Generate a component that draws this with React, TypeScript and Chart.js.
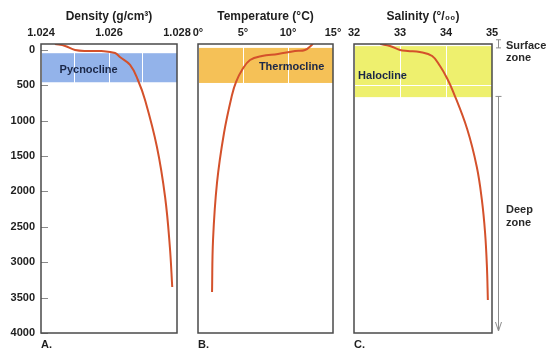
import React, { useEffect, useRef } from "react";
import { Chart, registerables } from "chart.js";

Chart.register(...registerables);
Chart.defaults.font.family = "'Liberation Sans', Arial, sans-serif";

// ---------- data ----------
const DEPTH_TICKS = [0, 500, 1000, 1500, 2000, 2500, 3000, 3500, 4000];
const DEPTH_MIN = -80;
const DEPTH_MAX = 4000;

const DENSITY_GRID = [1.024, 1.025, 1.026, 1.027, 1.028];
const DENSITY_LABELS = [1.024, 1.026, 1.028];
const DENSITY_VALUES = [1.02441, 1.02471, 1.025, 1.02538, 1.02577, 1.02618, 1.02632, 1.02662, 1.02685, 1.02706, 1.02741, 1.02765, 1.02779, 1.02786];
const DENSITY_DEPTHS = [-80, -52, 5, 19, 19, 47, 104, 216, 428, 711, 1374, 2080, 2786, 3351];

const TEMP_GRID = [0, 5, 10, 15];
const TEMP_VALUES = [12.78, 11.89, 10.78, 8.89, 7.11, 5.78, 4.89, 4.22, 3.78, 2.89, 2.11, 1.67, 1.56];
const TEMP_DEPTHS = [-80, 5, 19, 61, 89, 146, 287, 457, 640, 1177, 1882, 2687, 3421];

const SAL_GRID = [32, 33, 34, 35];
const SAL_VALUES = [32.57, 32.78, 33.0, 33.17, 33.43, 33.7, 33.87, 34.02, 34.15, 34.46, 34.67, 34.78, 34.85, 34.89, 34.91];
const SAL_DEPTHS = [-80, -52, 5, 19, 33, 89, 231, 400, 584, 1120, 1657, 2122, 2588, 3068, 3534];

const PYCNOCLINE = [50, 460];
const THERMOCLINE = [-25, 470];
const HALOCLINE = [-50, 670];
const SURFACE_ZONE = [-140, -25];
const DEEP_ZONE = [660, 4000];

// ---------- styles ----------
const CURVE = "#d4512b";
const TEXT = "#1e1e1e";
const FONT = "'Liberation Sans', Arial, sans-serif";

type PanelDef = {
  key: string;
  title: string;
  grid: number[];
  labels: number[];
  fmt: (v: number) => string;
  values: number[];
  depths: number[];
  band: number[];
  bandColor: string;
  bandLabel: string;
  labelAt: [number, number];
  padLeft: number;
  padRight: number;
  showY: boolean;
  letter: string;
  extras: boolean;
};

const PANELS: PanelDef[] = [
  {
    key: "a", title: "Density (g/cm³)", grid: DENSITY_GRID, labels: DENSITY_LABELS,
    fmt: (v) => v.toFixed(3), values: DENSITY_VALUES, depths: DENSITY_DEPTHS,
    band: PYCNOCLINE, bandColor: "#93b3ea", bandLabel: "Pycnocline", labelAt: [1.0254, 290],
    padLeft: 0, padRight: 373, showY: true, letter: "A.", extras: false,
  },
  {
    key: "b", title: "Temperature (°C)", grid: TEMP_GRID, labels: TEMP_GRID,
    fmt: (v) => v + "°", values: TEMP_VALUES, depths: TEMP_DEPTHS,
    band: THERMOCLINE, bandColor: "#f5c157", bandLabel: "Thermocline", labelAt: [10.4, 245],
    padLeft: 198, padRight: 217, showY: false, letter: "B.", extras: false,
  },
  {
    key: "c", title: "Salinity (°/₀₀)", grid: SAL_GRID, labels: SAL_GRID,
    fmt: (v) => String(v), values: SAL_VALUES, depths: SAL_DEPTHS,
    band: HALOCLINE, bandColor: "#eef06e", bandLabel: "Halocline", labelAt: [32.62, 372],
    padLeft: 354, padRight: 58, showY: false, letter: "C.", extras: true,
  },
];

function decoPlugin(p: PanelDef) {
  return {
    id: "deco" + p.key,
    beforeDraw(chart: any) {
      const { ctx, chartArea: a, scales } = chart;
      const y = scales.y;
      const t = y.getPixelForValue(p.band[0]);
      const b = y.getPixelForValue(p.band[1]);
      ctx.save();
      ctx.fillStyle = p.bandColor;
      ctx.fillRect(a.left, t, a.right - a.left, b - t);
      ctx.restore();
    },
    beforeDatasetsDraw(chart: any) {
      const { ctx, scales } = chart;
      ctx.save();
      ctx.font = `bold 11px ${FONT}`;
      ctx.fillStyle = "#1b2747";
      ctx.textAlign = "center";
      ctx.textBaseline = "middle";
      ctx.fillText(p.bandLabel, scales.x.getPixelForValue(p.labelAt[0]), scales.y.getPixelForValue(p.labelAt[1]));
      ctx.restore();
    },
    afterDraw(chart: any) {
      const { ctx, chartArea: a, scales } = chart;
      const y = scales.y;
      ctx.save();
      if (p.showY) {
        ctx.strokeStyle = "#8a8a8a";
        ctx.lineWidth = 1;
        DEPTH_TICKS.forEach((v) => {
          const py = Math.round(y.getPixelForValue(v)) + 0.5;
          ctx.beginPath();
          ctx.moveTo(a.left, py);
          ctx.lineTo(a.left + 7, py);
          ctx.stroke();
        });
      }
      ctx.strokeStyle = "#4a4a4a";
      ctx.lineWidth = 1.5;
      ctx.strokeRect(a.left, a.top, a.right - a.left, a.bottom - a.top);
      ctx.fillStyle = TEXT;
      ctx.font = `bold 11px ${FONT}`;
      ctx.textAlign = "left";
      ctx.textBaseline = "middle";
      ctx.fillText(p.letter, a.left, a.bottom + 12);
      if (p.extras) {
        const mx = a.right + 6.5;
        ctx.strokeStyle = "#8c8c8c";
        ctx.lineWidth = 1;
        const s0 = y.getPixelForValue(SURFACE_ZONE[0]);
        const s1 = y.getPixelForValue(SURFACE_ZONE[1]);
        ctx.beginPath();
        ctx.moveTo(mx, s0); ctx.lineTo(mx, s1);
        ctx.moveTo(mx - 2.5, s0); ctx.lineTo(mx + 2.5, s0);
        ctx.moveTo(mx - 2.5, s1); ctx.lineTo(mx + 2.5, s1);
        ctx.stroke();
        const d0 = y.getPixelForValue(DEEP_ZONE[0]);
        const d1 = y.getPixelForValue(DEEP_ZONE[1]) - 2;
        ctx.beginPath();
        ctx.moveTo(mx, d0); ctx.lineTo(mx, d1);
        ctx.moveTo(mx - 3, d0); ctx.lineTo(mx + 3, d0);
        ctx.moveTo(mx - 3, d1 - 9); ctx.lineTo(mx, d1); ctx.lineTo(mx + 3, d1 - 9);
        ctx.stroke();
        ctx.fillStyle = "#2a2a2a";
        ctx.font = `bold 11px ${FONT}`;
        const tx = a.right + 14;
        const sy = (s0 + s1) / 2 + 2;
        ctx.fillText("Surface", tx, sy);
        ctx.fillText("zone", tx, sy + 12.5);
        const dy = y.getPixelForValue(2350);
        ctx.fillText("Deep", tx, dy - 6);
        ctx.fillText("zone", tx, dy + 7);
      }
      ctx.restore();
    },
  };
}

function makeConfig(p: PanelDef): any {
  const tickFont = { family: FONT, size: 11, weight: "bold" as const };
  return {
    type: "line",
    data: {
      datasets: [
        {
          data: p.values.map((v, i) => ({ x: v, y: p.depths[i] })),
          borderColor: CURVE,
          borderWidth: 2,
          pointRadius: 0,
          tension: 0.4,
          fill: false,
        },
      ],
    },
    options: {
      responsive: false,
      animation: false,
      events: [],
      layout: { padding: { left: p.padLeft, right: p.padRight, top: 0, bottom: 24 } },
      plugins: { legend: { display: false }, tooltip: { enabled: false } },
      scales: {
        x: {
          type: "linear",
          position: "top",
          min: p.grid[0],
          max: p.grid[p.grid.length - 1],
          afterBuildTicks: (s: any) => {
            s.ticks = p.grid.map((v) => ({ value: v }));
          },
          afterFit: (s: any) => {
            s.height = 44;
          },
          ticks: {
            autoSkip: false,
            maxRotation: 0,
            padding: 4,
            font: tickFont,
            color: TEXT,
            callback: (v: number) => (p.labels.includes(v) ? p.fmt(v) : ""),
          },
          grid: { color: "#ffffff", lineWidth: 1, drawTicks: false },
          border: { display: false },
          title: {
            display: true,
            text: p.title,
            color: TEXT,
            font: { family: FONT, size: 12, weight: "bold" },
            padding: { top: 9, bottom: 0 },
          },
        },
        y: {
          type: "linear",
          reverse: true,
          min: DEPTH_MIN,
          max: DEPTH_MAX,
          afterBuildTicks: (s: any) => {
            s.ticks = DEPTH_TICKS.map((v) => ({ value: v }));
          },
          afterFit: (s: any) => {
            s.width = p.showY ? 41 : 0;
          },
          ticks: {
            display: p.showY,
            padding: 6,
            font: tickFont,
            color: TEXT,
            callback: (v: number) => String(v),
          },
          grid: {
            color: (c: any) => (c.tick && c.tick.value === 0 ? "rgba(0,0,0,0)" : "#ffffff"),
            drawTicks: false,
          },
          border: { display: false },
        },
      },
    },
    plugins: [decoPlugin(p)],
  };
}

function Panel({ p }: { p: PanelDef }) {
  const ref = useRef<HTMLCanvasElement | null>(null);
  useEffect(() => {
    if (!ref.current) return;
    const chart = new Chart(ref.current, makeConfig(p));
    return () => chart.destroy();
  }, [p]);
  return (
    <canvas
      ref={ref}
      width={550}
      height={357}
      style={{ position: "absolute", left: 0, top: 0, width: 550, height: 357 }}
    />
  );
}

export default function App() {
  return (
    <div style={{ position: "fixed", left: 0, top: 0, width: 550, height: 357, background: "#ffffff" }}>
      {PANELS.map((p) => (
        <Panel key={p.key} p={p} />
      ))}
    </div>
  );
}
